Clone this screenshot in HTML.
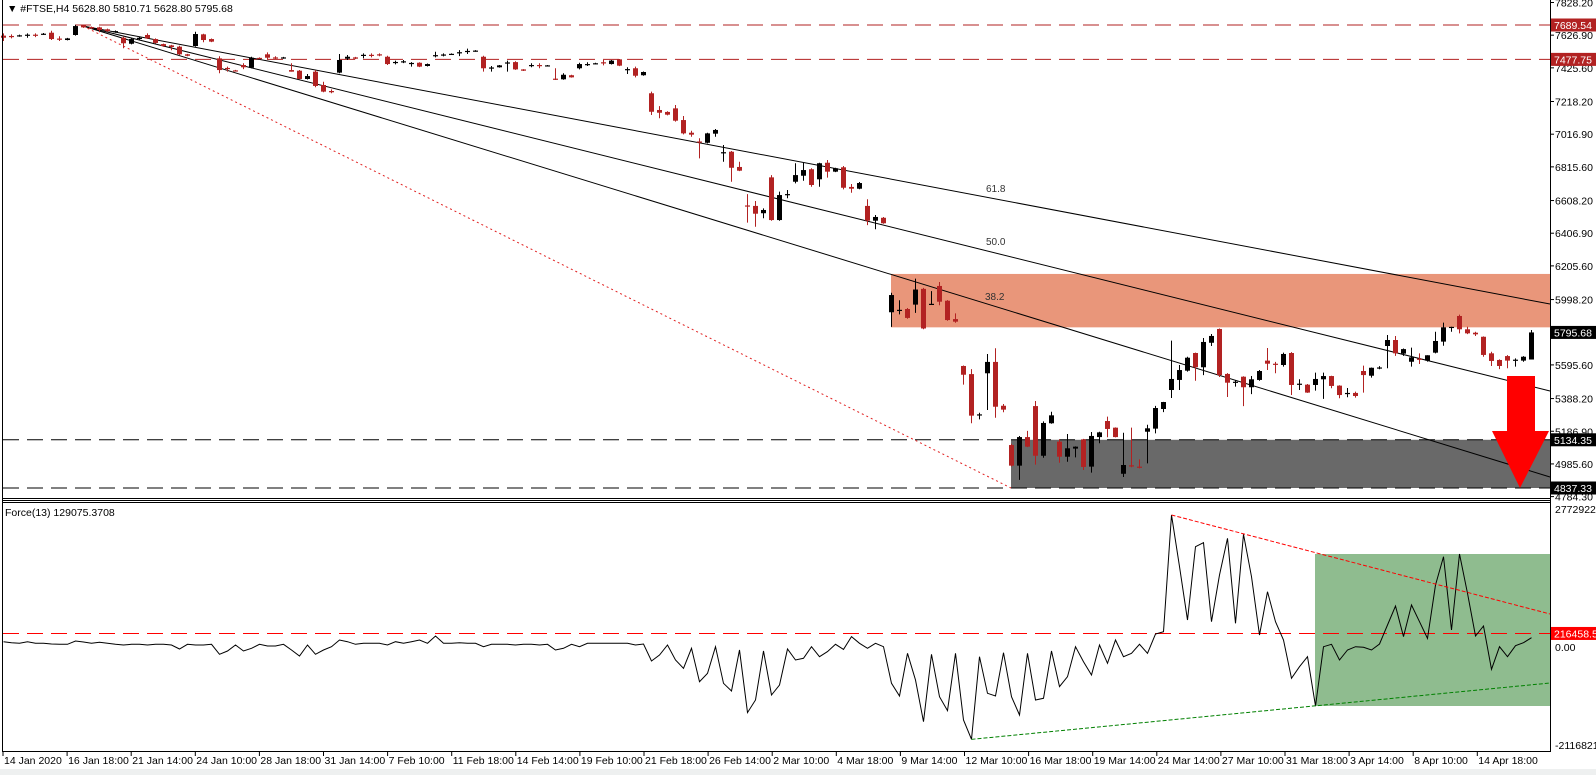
<!DOCTYPE html>
<html><head><meta charset="utf-8"><style>
html,body{margin:0;padding:0;background:#fff;overflow:hidden}
svg{display:block;font-family:"Liberation Sans",sans-serif}
</style></head><body>
<svg id="chart" width="1596" height="775" viewBox="0 0 1596 775" xmlns="http://www.w3.org/2000/svg">
<rect x="0" y="0" width="1596" height="775" fill="#fff"/>
<g id="overlaysBack"></g>
<g id="candles"></g>
<g id="overlaysFront"></g>
<g id="force"></g>
<g id="axes"></g>
</svg>
<script>
const opens=[7624,7622,7620,7626,7630,7632,7642,7606,7597,7628,7688,7677,7675,7663,7645,7611,7574,7603,7628,7603,7572,7564,7556,7509,7560,7632,7603,7484,7425,7410,7443,7426,7487,7509,7490,7484,7412,7408,7357,7402,7320,7283,7396,7482,7490,7502,7506,7509,7494,7458,7462,7452,7457,7437,7500,7504,7509,7516,7524,7527,7494,7424,7429,7455,7461,7416,7439,7443,7436,7359,7355,7380,7423,7445,7450,7460,7449,7478,7414,7423,7380,7269,7166,7154,7176,7104,7026,6972,6964,7020,6900,6909,6815,6578,6575,6530,6751,6488,6644,6724,6761,6801,6739,6841,6786,6813,6692,6681,6575,6484,6502,5920,5929,5940,5967,6064,5968,6082,5991,5878,5589,5539,5286,5544,5614,5344,5102,4975,5151,5342,5036,5236,5123,5030,5080,5137,4969,5151,5250,5209,4925,4977,4969,5184,5203,5324,5441,5503,5560,5669,5581,5732,5817,5540,5487,5523,5458,5503,5622,5603,5595,5669,5476,5474,5472,5507,5527,5468,5419,5423,5558,5529,5576,5712,5749,5665,5615,5634,5622,5671,5739,5825,5897,5815,5794,5769,5667,5626,5650,5624,5622,5628.8];
const highs=[7638,7632,7630,7638,7638,7640,7654,7620,7610,7690,7692,7680,7679,7667,7656,7617,7608,7617,7638,7607,7575,7567,7562,7512,7648,7636,7606,7497,7433,7413,7454,7494,7490,7521,7497,7493,7454,7412,7388,7412,7340,7293,7511,7505,7493,7515,7515,7515,7500,7470,7474,7461,7460,7452,7525,7515,7515,7535,7544,7535,7500,7437,7443,7470,7466,7418,7454,7454,7443,7423,7392,7383,7457,7460,7457,7474,7474,7480,7429,7433,7403,7279,7190,7158,7197,7129,7038,6992,7026,7049,6950,6913,6847,6648,6605,6560,6765,6663,6673,6838,6841,6807,6841,6858,6810,6821,6710,6722,6616,6519,6507,6040,5994,5946,6127,6070,6050,6106,5995,5913,5592,5570,5301,5663,5698,5355,5110,5158,5189,5373,5248,5307,5137,5170,5094,5140,5182,5184,5277,5211,5178,5209,5014,5227,5343,5368,5745,5595,5646,5671,5761,5786,5820,5545,5500,5526,5527,5564,5700,5614,5671,5674,5507,5478,5548,5548,5529,5470,5453,5431,5591,5580,5588,5780,5774,5697,5702,5667,5655,5800,5856,5831,5905,5831,5800,5771,5677,5630,5656,5636,5650,5810.71];
const lows=[7591,7607,7617,7611,7615,7628,7597,7591,7595,7624,7672,7665,7645,7648,7642,7546,7570,7600,7603,7575,7555,7534,7505,7497,7556,7583,7584,7392,7402,7403,7418,7422,7479,7480,7480,7482,7402,7355,7354,7306,7275,7269,7392,7474,7479,7484,7490,7497,7443,7447,7455,7433,7430,7434,7490,7496,7506,7498,7511,7525,7402,7402,7427,7402,7413,7406,7429,7423,7435,7351,7352,7365,7416,7437,7448,7441,7446,7436,7388,7367,7377,7135,7115,7133,7094,7016,7001,6868,6960,7001,6847,6724,6789,6472,6447,6499,6484,6484,6622,6714,6730,6693,6693,6749,6783,6677,6656,6678,6457,6431,6465,5830,5907,5880,5916,5815,5965,5963,5868,5855,5474,5236,5260,5318,5270,5304,4970,4887,5089,4981,5024,5233,4993,4999,5026,4948,4932,5113,5150,5149,4905,4965,4958,4989,5174,5305,5392,5441,5554,5498,5533,5712,5521,5398,5462,5342,5416,5498,5564,5544,5585,5410,5441,5423,5437,5386,5452,5390,5396,5394,5425,5517,5569,5575,5651,5651,5585,5601,5616,5667,5714,5800,5790,5785,5774,5646,5589,5570,5575,5585,5615,5628.8];
const closes=[7611,7618,7626,7630,7626,7636,7603,7602,7607,7683,7675,7669,7659,7652,7652,7577,7603,7611,7607,7579,7560,7554,7509,7500,7634,7597,7587,7412,7420,7406,7429,7488,7482,7488,7486,7490,7402,7357,7375,7314,7279,7275,7474,7494,7482,7506,7502,7505,7449,7462,7466,7456,7433,7449,7504,7508,7512,7522,7530,7532,7423,7428,7441,7459,7416,7408,7443,7439,7441,7355,7383,7367,7449,7449,7454,7455,7470,7439,7418,7377,7400,7155,7149,7137,7100,7022,7014,6968,7022,7043,6906,6810,6792,6573,6527,6550,6488,6642,6648,6765,6796,6704,6838,6786,6807,6687,6681,6716,6484,6507,6468,6026,5935,5885,6060,5820,5972,5985,5872,5862,5535,5283,5291,5614,5338,5320,4975,5151,5092,5036,5238,5285,5030,5082,5092,4967,5158,5180,5201,5151,4979,4973,4965,5205,5330,5367,5509,5564,5640,5581,5737,5774,5533,5486,5492,5458,5507,5558,5603,5599,5663,5472,5480,5425,5509,5527,5466,5410,5423,5404,5533,5578,5580,5749,5667,5693,5642,5630,5655,5743,5827,5830,5815,5790,5784,5657,5620,5589,5622,5628,5646,5795.68];
const forceThousands=[48,27,14,48,14,14,0,-7,-7,62,41,14,34,14,-7,-21,-7,-7,-21,-7,-7,-21,-103,-7,-21,-21,-7,-212,-144,-21,-144,-89,-7,-41,-41,-7,-123,-246,-21,-212,-123,-55,82,48,-7,14,14,14,-21,48,14,48,82,14,164,14,14,27,14,14,-55,-7,-7,-7,-21,-7,-7,-21,-7,-123,-89,-7,-55,14,14,14,14,14,14,-21,0,-349,-226,-21,-329,-500,-89,-774,-603,-55,-808,-965,-123,-1410,-1150,-144,-1048,-842,-103,-329,-294,-55,-260,-157,-7,-110,151,14,-89,14,-55,-808,-1068,-192,-739,-1595,-212,-1082,-1369,-192,-1561,-1958,-260,-1013,-1068,-178,-1082,-1458,-192,-1150,-1116,-144,-876,-671,-55,-363,-637,-21,-397,82,-260,-192,-7,-192,205,253,2650,1589,493,1999,2081,459,1417,2171,425,2253,1383,185,1075,459,82,-705,-466,-260,-1274,-55,-7,-329,-123,-55,-68,-123,0,390,781,151,801,459,116,1212,1794,288,1849,1041,164,370,-520,-55,-260,-34,27,130];
const timeLabels=["14 Jan 2020","16 Jan 18:00","21 Jan 14:00","24 Jan 10:00","28 Jan 18:00","31 Jan 14:00","7 Feb 10:00","11 Feb 18:00","14 Feb 14:00","19 Feb 10:00","21 Feb 18:00","26 Feb 14:00","2 Mar 10:00","4 Mar 18:00","9 Mar 14:00","12 Mar 10:00","16 Mar 18:00","19 Mar 14:00","24 Mar 14:00","27 Mar 10:00","31 Mar 18:00","3 Apr 14:00","8 Apr 10:00","14 Apr 18:00"];
const priceTicks=["7828.20","7626.90","7425.60","7218.20","7016.90","6815.60","6608.20","6406.90","6205.60","5998.20","5595.60","5388.20","5186.90","4985.60","4784.30"];
const redLevels=[7689.54,7477.75];
const blackLevels=[5134.35,4837.33];
const forceLevel=216458.56;
const forceTickLabels=["2772922.0","0.00","-2116821.3"];

const NS="http://www.w3.org/2000/svg";
function mk(tag,attrs,parent){const e=document.createElementNS(NS,tag);for(const k in attrs)e.setAttribute(k,attrs[k]);parent.appendChild(e);return e;}
const xOf=i=>3.5+8*i;
const yP=p=>25+(7689.54-p)*0.16233;
const yF=v=>644-(v/1000)*0.048685;
const RED="#b22222";
const back=document.getElementById('overlaysBack');
const front=document.getElementById('overlaysFront');
const cg=document.getElementById('candles');
const fg=document.getElementById('force');
const ax=document.getElementById('axes');

// zones
let z=mk('rect',{x:891,y:yP(6156),width:1550-891,height:yP(5827)-yP(6156),fill:"#e9967a"},back);


z=mk('rect',{x:1011,y:yP(5134.35),width:1550-1011,height:yP(4837.33)-yP(5134.35),fill:"#696969"},back);



// horizontal levels
redLevels.forEach(v=>{const l=mk('line',{x1:3,x2:1550,y1:yP(v),y2:yP(v),stroke:RED,"stroke-width":1,"stroke-dasharray":"16,8"},back);

});
blackLevels.forEach(v=>{const l=mk('line',{x1:3,x2:1550,y1:yP(v),y2:yP(v),stroke:"#000","stroke-width":1,"stroke-dasharray":"16,8"},back);

});

// fan lines
[[304,'fib-61.8-line'],[391,'fib-50.0-line'],[477,'fib-38.2-line']].forEach(a=>{const l=mk('line',{x1:83,y1:26,x2:1550,y2:a[0],stroke:"#000","stroke-width":1},back);

});
let dl=mk('line',{x1:83,y1:26,x2:1011,y2:488,stroke:"#e02020","stroke-width":1,"stroke-dasharray":"2,3"},back);


[["61.8",986,192],["50.0",986,245],["38.2",985,300]].forEach(a=>{const t=mk('text',{x:a[1],y:a[2],"font-size":"10",fill:"#333"},front);t.textContent=a[0];

});

// candles
for(let i=0;i<opens.length;i++){
 const o=opens[i],c=closes[i],h=highs[i],l=lows[i];const bull=c>=o;const col=bull?"#000":RED;const x=xOf(i);
 const w=mk('line',{x1:x,x2:x,y1:yP(h),y2:yP(l),stroke:col,"stroke-width":1},cg);
 
 
 const yt=yP(Math.max(o,c)),yb=yP(Math.min(o,c));
 const b=mk('rect',{x:x-2.5,y:yt,width:5,height:Math.max(1.2,yb-yt),fill:col},cg);
 
 
}

// arrow
let ar=mk('polygon',{points:"1507,376 1535,376 1535,431 1549,431 1520,488 1492,431 1507,431",fill:"#ff0000"},front);



// force panel
let gz=mk('rect',{x:1315,y:554,width:235,height:152,fill:"#8fbc8f"},fg);


let fl=mk('line',{x1:3,x2:1550,y1:yF(forceLevel),y2:yF(forceLevel),stroke:"#ff0000","stroke-width":1,"stroke-dasharray":"16,8"},fg);


let pts=forceThousands.map((v,i)=>xOf(i).toFixed(1)+","+yF(v*1000).toFixed(1)).join(" ");
let fp=mk('polyline',{points:pts,fill:"none",stroke:"#000","stroke-width":1},fg);


let rt=mk('line',{x1:xOf(146),y1:yF(forceThousands[146]*1000),x2:1550,y2:614,stroke:"#ff0000","stroke-width":1,"stroke-dasharray":"4,2"},fg);


let gt=mk('line',{x1:xOf(121),y1:yF(forceThousands[121]*1000),x2:1550,y2:683,stroke:"#008000","stroke-width":1,"stroke-dasharray":"4,2"},fg);



// frames
mk('line',{x1:2.5,x2:2.5,y1:0,y2:752,stroke:"#000"},ax);
mk('line',{x1:1550.5,x2:1550.5,y1:0,y2:752,stroke:"#000"},ax);
mk('line',{x1:2,x2:1551,y1:498.5,y2:498.5,stroke:"#000"},ax);
mk('line',{x1:2,x2:1551,y1:500.5,y2:500.5,stroke:"#000"},ax);
mk('line',{x1:2,x2:1551,y1:502.5,y2:502.5,stroke:"#000"},ax);
mk('line',{x1:2,x2:1551,y1:751.5,y2:751.5,stroke:"#000"},ax);
let bs=mk('rect',{x:0,y:769,width:1596,height:6,fill:"#eef0f0"},ax);



// price axis
priceTicks.forEach(s=>{const y=yP(parseFloat(s));mk('line',{x1:1550,x2:1554,y1:y,y2:y,stroke:"#000"},ax);
const t=mk('text',{x:1555,y:y+4,"font-size":"10.5",fill:"#000"},ax);t.textContent=s;

});
function tag(v,txt,bg,name){const y=v;const r=mk('rect',{x:1551,y:y-6.5,width:45,height:13,fill:bg},ax);


const t=mk('text',{x:1554,y:y+4,"font-size":"10.5",fill:"#fff"},ax);t.textContent=txt;

}
redLevels.forEach(v=>tag(yP(v),v.toFixed(2),RED,'resistance-price-tag'));
blackLevels.forEach(v=>tag(yP(v),v.toFixed(2),"#000",'support-price-tag'));
tag(yP(closes[closes.length-1]),closes[closes.length-1].toFixed(2),"#000",'last-price-tag');
tag(yF(forceLevel),forceLevel.toFixed(2),"#ff0000",'force-level-tag');
[[509,forceTickLabels[0]],[647,forceTickLabels[1]],[745,forceTickLabels[2]]].forEach(a=>{const t=mk('text',{x:1555,y:a[0]+4,"font-size":"10.5",fill:"#000"},ax);t.textContent=a[1];

});

// time axis
timeLabels.forEach((s,k)=>{const x=3+64.1*k;mk('line',{x1:x,x2:x,y1:752,y2:756,stroke:"#000"},ax);
const t=mk('text',{x:x+1,y:764,"font-size":"10.5",fill:"#000"},ax);t.textContent=s;

});

// titles
let tt=mk('text',{x:7,y:12,"font-size":"10.5",fill:"#000"},ax);tt.textContent="▼ #FTSE,H4  5628.80 5810.71 5628.80 5795.68";


let ft=mk('text',{x:5,y:516,"font-size":"10.5",fill:"#000"},ax);ft.textContent="Force(13) 129075.3708";


</script>
</body></html>
